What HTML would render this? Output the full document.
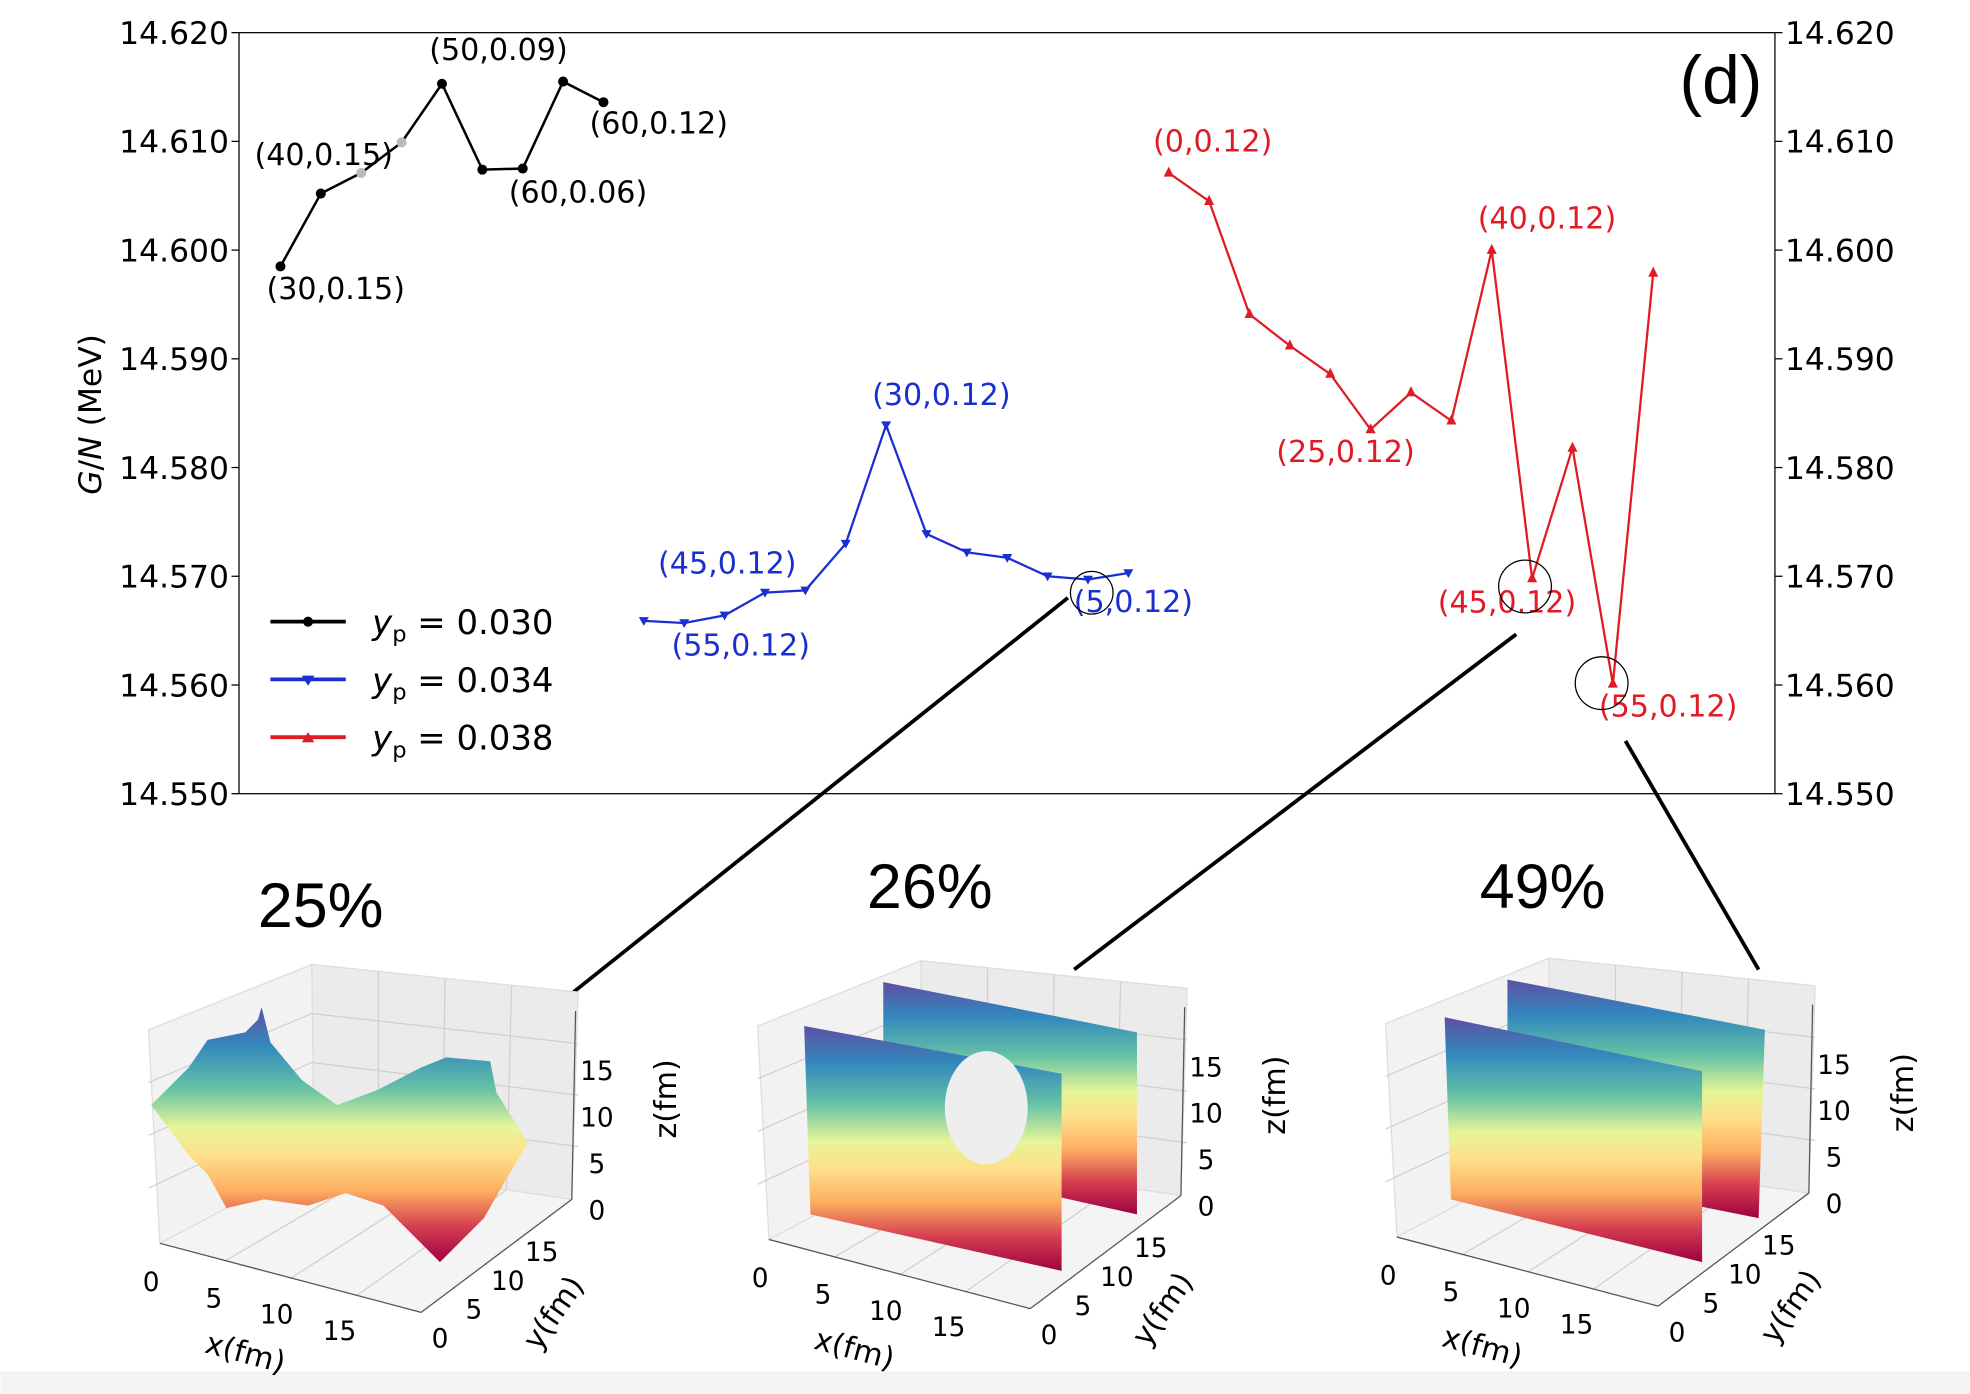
<!DOCTYPE html>
<html><head><meta charset="utf-8"><style>
html,body{margin:0;padding:0;background:#fff;}
svg{display:block;font-family:"DejaVu Sans","Liberation Sans",sans-serif;}
</style></head><body>
<svg id="fig" width="1970" height="1394" viewBox="0 0 1568 1110" xmlns="http://www.w3.org/2000/svg">
<defs>
<linearGradient id="spec" x1="0" y1="0" x2="0" y2="1">
<stop offset="0" stop-color="#5e4fa2"/><stop offset="0.15" stop-color="#3288bd"/><stop offset="0.32" stop-color="#66c2a5"/><stop offset="0.47" stop-color="#e6f598"/><stop offset="0.58" stop-color="#fee08b"/><stop offset="0.72" stop-color="#fdae61"/><stop offset="0.86" stop-color="#d53e4f"/><stop offset="1" stop-color="#9e0142"/>
</linearGradient>
</defs>
<rect width="1568" height="1110" fill="#fff"/>
<rect y="1092" width="1568" height="18" fill="#f3f3f3"/>
<g id="axes">
<rect x="190" y="26" width="1223" height="606" fill="none" stroke="#000" stroke-width="1"/>
</g>
<g id="ticks" font-size="25"></g>
<text transform="translate(80,330) rotate(-90)" text-anchor="middle" font-size="25"><tspan font-style="italic">G</tspan>/<tspan font-style="italic">N</tspan> (MeV)</text>
<text x="1370" y="82" text-anchor="middle" font-size="54" font-family="Liberation Sans">(d)</text>
<g id="series"></g>
<g id="labels" font-size="24"></g>
<g font-size="27">
<line x1="215" y1="495" x2="275" y2="495" stroke="#000" stroke-width="3"/><circle cx="245" cy="495" r="4"/>
<text x="296" y="505"><tspan font-style="italic">y</tspan><tspan font-size="18" dy="6">p</tspan><tspan dy="-6"> = 0.030</tspan></text>
<line x1="215" y1="541" x2="275" y2="541" stroke="#1a2fd0" stroke-width="3"/><polygon points="240,538 250,538 245,546" fill="#1a2fd0"/>
<text x="296" y="551"><tspan font-style="italic">y</tspan><tspan font-size="18" dy="6">p</tspan><tspan dy="-6"> = 0.034</tspan></text>
<line x1="215" y1="587" x2="275" y2="587" stroke="#e01b24" stroke-width="3"/><polygon points="240,591 250,591 245,583" fill="#e01b24"/>
<text x="296" y="597"><tspan font-style="italic">y</tspan><tspan font-size="18" dy="6">p</tspan><tspan dy="-6"> = 0.038</tspan></text>
</g>
<g fill="none" stroke="#000" stroke-width="1">
<circle cx="869" cy="472" r="17"/><circle cx="1214" cy="467" r="21"/><circle cx="1275" cy="544" r="21"/>
</g>
<g stroke="#000" stroke-width="3">
<line x1="850" y1="476" x2="440" y2="803"/><line x1="1207" y1="505" x2="855" y2="772"/><line x1="1294" y1="590" x2="1400" y2="772"/>
</g>
<g id="panels"></g>
</svg>
<script>
const NS="http://www.w3.org/2000/svg";
const yTicks=[14.550,14.560,14.570,14.580,14.590,14.600,14.610,14.620];
const blackVals=[14.5985,14.6052,14.6071,14.6099,14.6153,14.6074,14.6075,14.6155,14.6136];
const blueVals=[14.5659,14.5657,14.5664,14.5685,14.5687,14.5730,14.5839,14.5739,14.5722,14.5717,14.5700,14.5697,14.5703];
const redVals=[14.6071,14.6045,14.5941,14.5912,14.5886,14.5835,14.5869,14.5843,14.6000,14.5698,14.5818,14.5601,14.5979];
const blackStart=0, blueStart=9, redStart=22;
const annotations=[
["(30,0.15)","#000",0,0],["(40,0.15)","#000",0,3],["(50,0.09)","#000",0,4],["(60,0.06)","#000",0,6],["(60,0.12)","#000",0,8],
["(45,0.12)","#1a2fd0",1,3],["(55,0.12)","#1a2fd0",1,1],["(30,0.12)","#1a2fd0",1,6],["(5,0.12)","#1a2fd0",1,12],
["(0,0.12)","#e01b24",2,0],["(25,0.12)","#e01b24",2,5],["(40,0.12)","#e01b24",2,8],["(45,0.12)","#e01b24",2,9],["(55,0.12)","#e01b24",2,11]];
const annOff=[[44,18],[-62,10],[45,-27],[44,19],[44,17],[-30,-23],[45,18],[44,-24],[4,23],[35,-25],[-20,18],[44,-25],[-20,19],[44,18]];
function ys(v){return 26+(14.620-v)/0.070*606;}
function xs(i){return 223+i*32.15;}
function mk(t,a,p){const e=document.createElementNS(NS,t);for(const k in a)e.setAttribute(k,a[k]);(p||document.getElementById('fig')).appendChild(e);return e;}
const tg=document.getElementById('ticks');
yTicks.forEach(v=>{
 const y=ys(v);
 const l=mk('line',{x1:184,x2:190,y1:y,y2:y,stroke:'#000'},tg);
 
 
 const r=mk('line',{x1:1413,x2:1419,y1:y,y2:y,stroke:'#000'},tg);
 
 
 const t=mk('text',{x:182,y:y+9,'text-anchor':'end'},tg);t.textContent=v.toFixed(3);
 
 
 const t2=mk('text',{x:1421,y:y+9},tg);t2.textContent=v.toFixed(3);
 
 
});
const sg=document.getElementById('series');
const seriesDefs=[[blackVals,blackStart,'#000','circle','series-yp-0030'],[blueVals,blueStart,'#1a2fd0','down','series-yp-0034'],[redVals,redStart,'#e01b24','up','series-yp-0038']];
seriesDefs.forEach(([vals,st,col,m,name])=>{
 const g=mk('g',{},sg);
 
 
 const pts=vals.map((v,i)=>xs(st+i)+','+ys(v)).join(' ');
 const pl=mk('polyline',{points:pts,fill:'none',stroke:col,'stroke-width':m==='circle'?2:1.8},g);
 
 
 vals.forEach((v,i)=>{
  const x=xs(st+i),y=ys(v);let e;
  if(m==='circle'){e=mk('circle',{cx:x,cy:y,r:4,fill:(i===2||i===3)?'#bbb':col},g);}
  else if(m==='down'){e=mk('polygon',{points:`${x-4},${y-3} ${x+4},${y-3} ${x},${y+4}`,fill:col},g);}
  else{e=mk('polygon',{points:`${x-4},${y+3} ${x+4},${y+3} ${x},${y-5}`,fill:col},g);}
  
  
 });
});
const lg=document.getElementById('labels');
const allVals=[[blackVals,blackStart],[blueVals,blueStart],[redVals,redStart]];
annotations.forEach((a,k)=>{
 const [txt,col,s,i]=a;const [vals,st]=allVals[s];
 const t=mk('text',{x:xs(st+i)+annOff[k][0],y:ys(vals[i])+annOff[k][1]+8,fill:col,'text-anchor':'middle'},lg);
 t.textContent=txt;
 
 
});
// 3D panels
const pg=document.getElementById('panels');
const panels=[[0,0,'25%',255,0],[485,-3,'26%',740,1],[985,-5,'49%',1228,2]];
panels.forEach(([dx,dy,title,tx,kind],n)=>{
 const g=mk('g',{transform:`translate(${dx},${dy})`},pg);
 
 
 mk('polygon',{points:'118,820 248,768 250,925 127,990',fill:'#f2f2f2',stroke:'#ddd'},g);
 mk('polygon',{points:'248,768 460,790 455,955 250,925',fill:'#ebebeb',stroke:'#ddd'},g);
 mk('polygon',{points:'127,990 250,925 455,955 335,1045',fill:'#f4f4f4',stroke:'#ddd'},g);
 for(let k=1;k<4;k++){
  mk('line',{x1:248+k*53,y1:768+k*5.5,x2:250+k*51,y2:925+k*7.5,stroke:'#d0d0d0'},g);
  mk('line',{x1:118,y1:820+k*42,x2:248,y2:768+k*39,stroke:'#d0d0d0'},g);
  mk('line',{x1:248,y1:768+k*39,x2:460,y2:790+k*41,stroke:'#d0d0d0'},g);
  mk('line',{x1:127+k*52,y1:990+k*14,x2:250+k*51,y2:925+k*7.5,stroke:'#d0d0d0'},g);
 }
 mk('line',{x1:127,y1:990,x2:335,y2:1045,stroke:'#555'},g);
 mk('line',{x1:335,y1:1045,x2:455,y2:955,stroke:'#555'},g);
 mk('line',{x1:455,y1:955,x2:458,y2:805,stroke:'#555'},g);
 if(kind===0){
  const s=mk('polygon',{points:'120,880 150,850 165,828 195,822 205,812 208,802 215,830 240,860 268,880 300,868 335,850 355,842 390,845 395,870 420,910 405,935 385,970 350,1005 330,985 305,960 275,950 245,960 210,955 180,962 165,935 150,920',fill:'url(#spec)'},g);
  
  
 }else if(kind===1){
  const b=mk('polygon',{points:'218,785 420,825 420,970 218,925',fill:'url(#spec)'},g);
  
  
  const f=mk('polygon',{points:'155,820 360,858 360,1015 160,970',fill:'url(#spec)'},g);
  
  
  mk('ellipse',{cx:300,cy:885,rx:33,ry:45,fill:'#eeeeee'},g);
 }else{
  const b=mk('polygon',{points:'215,785 420,825 415,975 215,935',fill:'url(#spec)'},g);
  
  
  const f=mk('polygon',{points:'165,815 370,858 370,1010 170,960',fill:'url(#spec)'},g);
  
  
 }
 const zl=['15','10','5','0'];
 zl.forEach((z,k)=>{const t=mk('text',{x:475,y:860+k*37,'font-size':21,'text-anchor':'middle'},g);t.textContent=z;});
 const zt=mk('text',{transform:'translate(538,875) rotate(-90)','font-size':24,'text-anchor':'middle'},g);zt.textContent='z(fm)';
 
 
 ['0','5','10','15'].forEach((v,k)=>{const t=mk('text',{x:120+k*50,y:1028+k*13,'font-size':21,'text-anchor':'middle'},g);t.textContent=v;});
 const xt=mk('text',{transform:'translate(193,1085) rotate(15)','font-size':24,'text-anchor':'middle'},g);xt.textContent='x(fm)';
 
 
 ['0','5','10','15'].forEach((v,k)=>{const t=mk('text',{x:350+k*27,y:1073-k*23,'font-size':21,'text-anchor':'middle'},g);t.textContent=v;});
 const yt=mk('text',{transform:'translate(447,1050) rotate(-55)','font-size':24,'text-anchor':'middle'},g);yt.textContent='y(fm)';
 
 
 const tt=mk('text',{x:tx-dx,y:738-dy-(n?15:0),'font-size':50,'text-anchor':'middle','font-family':'Liberation Sans'},g);tt.textContent=title;
 
 
});
</script>
</body></html>
